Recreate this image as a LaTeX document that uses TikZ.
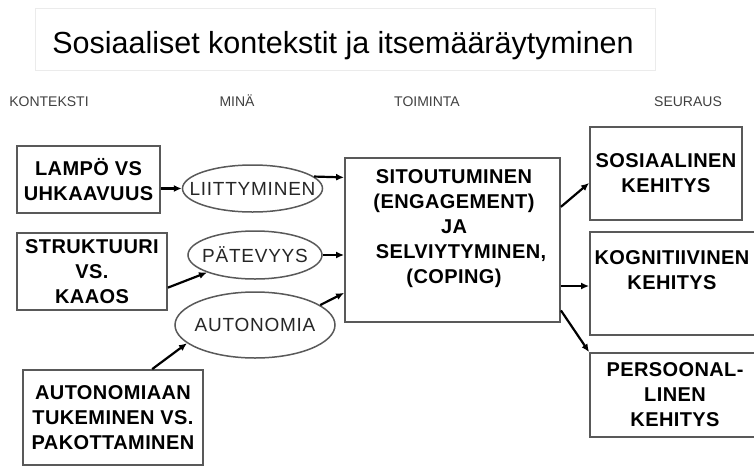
\documentclass[tikz,border=0pt]{standalone}
\usepackage{fontspec}
\setmainfont{Liberation Sans}
\newfontfamily\boxfont{Liberation Sans}[LetterSpace=2]
\newfontfamily\ellfont{Liberation Sans}[LetterSpace=4]
\usetikzlibrary{arrows.meta,shapes.geometric}
\tikzset{
  box/.style={draw=black!65, line width=1.8pt, inner sep=0pt, align=center,
    font=\boxfont\bfseries\fontsize{20}{25}\selectfont},
  txt/.style={inner sep=0pt, align=center, font=\boxfont\bfseries\fontsize{20}{25}\selectfont},
  ell/.style={ellipse, draw=black!65, line width=1.5pt, inner sep=0pt,
    font=\ellfont\fontsize{19}{22}\selectfont, text=black!85},
  hdr/.style={inner sep=0pt, anchor=base, font=\fontsize{14}{16}\selectfont, text=black!75},
  arr/.style={-{Latex[length=8pt,width=7pt]}, line width=2.2pt, black},
  titlebox/.style={draw=black!8, line width=1pt, inner sep=0pt},
  titletext/.style={inner sep=0pt, anchor=base, font=\fontsize{30.5}{34}\selectfont}
}
\begin{document}
\begin{tikzpicture}[x=1pt,y=-1pt]
\useasboundingbox (0,0) rectangle (754,466);
\clip (0,0) rectangle (754,466);

\node[titlebox, minimum width=620pt, minimum height=62pt] (title) at (345,39) {};
\node[titletext] (titlet) at (343,53) {Sosiaaliset kontekstit ja itsemääräytyminen};

\node[hdr] (h1) at (49,106) {KONTEKSTI};
\node[hdr] (h2) at (237,106) {MINÄ};
\node[hdr] (h3) at (427,106) {TOIMINTA};
\node[hdr] (h4) at (688,106) {SEURAUS};

\node[box, minimum width=143pt, minimum height=67pt] (lampo) at (88.5,179.5) {LAMPÖ VS\\UHKAAVUUS};
\node[box, minimum width=150pt, minimum height=77pt] (struk) at (92,271.5) {STRUKTUURI\\VS.\\KAAOS};
\node[box, minimum width=180pt, minimum height=95pt] (tuki) at (113,417.5) {AUTONOMIAAN\\TUKEMINEN VS.\\PAKOTTAMINEN};

\node[box, minimum width=215pt, minimum height=164pt] (act) at (452.5,240) {};
\node[txt] (acttext) at (454,229) {SITOUTUMINEN\\(ENGAGEMENT)\\JA\\\hspace*{14pt}SELVIYTYMINEN,\\(COPING)};

\node[box, minimum width=152pt, minimum height=93pt] (sos) at (666,173.5) {SOSIAALINEN\\KEHITYS};
\node[box, minimum width=180pt, minimum height=103pt] (kog) at (680,283.5) {};
\node[txt] (kogtext) at (672,270) {KOGNITIIVINEN\\KEHITYS};
\node[box, minimum width=180pt, minimum height=84pt] (pers) at (680,395) {};
\node[txt] (perstext) at (675,395) {PERSOONAL-\\LINEN\\KEHITYS};

\node[ell, minimum width=140pt, minimum height=47pt] (liitt) at (252.5,188.5) {\makebox[0pt]{LIITTYMINEN}};
\node[ell, minimum width=134pt, minimum height=48pt] (patev) at (255,255) {\makebox[0pt]{PÄTEVYYS}};
\node[ell, minimum width=160pt, minimum height=66pt] (auton) at (255,325) {\makebox[0pt]{AUTONOMIA}};

\draw[arr] (liitt.west -| lampo.east) -- (liitt.west);
\draw[arr] (liitt.11) -- (act.150);
\draw[arr] (struk.-12) -- (patev.200);
\draw[arr] (patev.east) -- (patev.east -| act.west);
\draw[arr] (auton.17) -- (act.206);
\draw[arr] (tuki.51) -- (auton.195);
\draw[arr] (act.17) -- (sos.187);
\draw[arr] (act.337) -- (act.337 -| kog.west);
\draw[arr] (act.-33) -- (pers.north west);
\end{tikzpicture}
\end{document}
